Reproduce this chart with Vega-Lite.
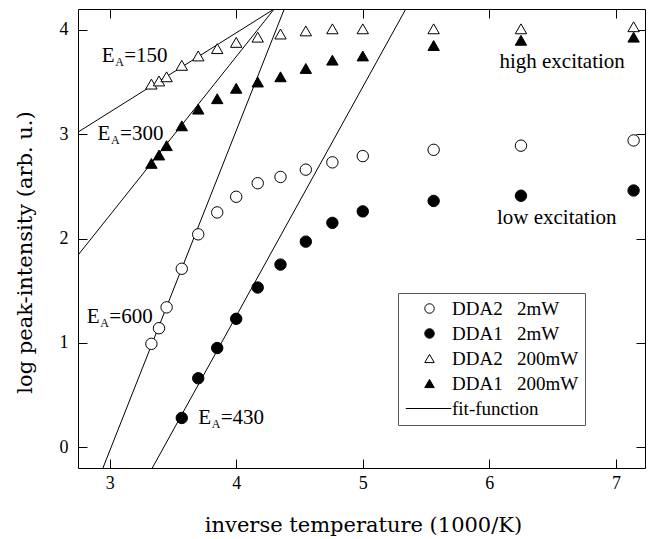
{
  "$schema": "https://vega.github.io/schema/vega-lite/v6.json",
  "autosize": {"type": "none"},
  "width": 567,
  "height": 459,
  "padding": {"left": 78, "top": 9, "right": 10, "bottom": 71},
  "background": "white",
  "config": {
    "view": {"stroke": "black", "strokeWidth": 1},
    "font": "Liberation Serif",
    "axis": {"domain": false, "ticks": false, "grid": true, "gridColor": "black", "gridOpacity": 1, "gridWidth": 1, "labelColor": "black", "titleColor": "black", "labelFont": "Liberation Serif", "titleFont": "DejaVu Serif", "labelFontSize": 18, "titleFontSize": 21, "titleFontWeight": "normal"}
  },
  "datasets": {
    "points": [
      {"x": 3.33, "y": 0.99, "series": "DDA2\u2002 2mW"},
      {"x": 3.39, "y": 1.14, "series": "DDA2\u2002 2mW"},
      {"x": 3.45, "y": 1.34, "series": "DDA2\u2002 2mW"},
      {"x": 3.57, "y": 1.71, "series": "DDA2\u2002 2mW"},
      {"x": 3.70, "y": 2.04, "series": "DDA2\u2002 2mW"},
      {"x": 3.85, "y": 2.25, "series": "DDA2\u2002 2mW"},
      {"x": 4.00, "y": 2.40, "series": "DDA2\u2002 2mW"},
      {"x": 4.17, "y": 2.53, "series": "DDA2\u2002 2mW"},
      {"x": 4.35, "y": 2.59, "series": "DDA2\u2002 2mW"},
      {"x": 4.55, "y": 2.66, "series": "DDA2\u2002 2mW"},
      {"x": 4.76, "y": 2.73, "series": "DDA2\u2002 2mW"},
      {"x": 5.00, "y": 2.79, "series": "DDA2\u2002 2mW"},
      {"x": 5.56, "y": 2.85, "series": "DDA2\u2002 2mW"},
      {"x": 6.25, "y": 2.89, "series": "DDA2\u2002 2mW"},
      {"x": 7.14, "y": 2.94, "series": "DDA2\u2002 2mW"},
      {"x": 3.57, "y": 0.28, "series": "DDA1\u2002 2mW"},
      {"x": 3.70, "y": 0.66, "series": "DDA1\u2002 2mW"},
      {"x": 3.85, "y": 0.95, "series": "DDA1\u2002 2mW"},
      {"x": 4.00, "y": 1.23, "series": "DDA1\u2002 2mW"},
      {"x": 4.17, "y": 1.53, "series": "DDA1\u2002 2mW"},
      {"x": 4.35, "y": 1.75, "series": "DDA1\u2002 2mW"},
      {"x": 4.55, "y": 1.97, "series": "DDA1\u2002 2mW"},
      {"x": 4.76, "y": 2.15, "series": "DDA1\u2002 2mW"},
      {"x": 5.00, "y": 2.26, "series": "DDA1\u2002 2mW"},
      {"x": 5.56, "y": 2.36, "series": "DDA1\u2002 2mW"},
      {"x": 6.25, "y": 2.41, "series": "DDA1\u2002 2mW"},
      {"x": 7.14, "y": 2.46, "series": "DDA1\u2002 2mW"},
      {"x": 3.33, "y": 3.48, "series": "DDA2\u2002 200mW"},
      {"x": 3.39, "y": 3.51, "series": "DDA2\u2002 200mW"},
      {"x": 3.45, "y": 3.55, "series": "DDA2\u2002 200mW"},
      {"x": 3.57, "y": 3.66, "series": "DDA2\u2002 200mW"},
      {"x": 3.70, "y": 3.75, "series": "DDA2\u2002 200mW"},
      {"x": 3.85, "y": 3.82, "series": "DDA2\u2002 200mW"},
      {"x": 4.00, "y": 3.88, "series": "DDA2\u2002 200mW"},
      {"x": 4.17, "y": 3.93, "series": "DDA2\u2002 200mW"},
      {"x": 4.35, "y": 3.96, "series": "DDA2\u2002 200mW"},
      {"x": 4.55, "y": 3.99, "series": "DDA2\u2002 200mW"},
      {"x": 4.76, "y": 4.01, "series": "DDA2\u2002 200mW"},
      {"x": 5.00, "y": 4.01, "series": "DDA2\u2002 200mW"},
      {"x": 5.56, "y": 4.01, "series": "DDA2\u2002 200mW"},
      {"x": 6.25, "y": 4.01, "series": "DDA2\u2002 200mW"},
      {"x": 7.14, "y": 4.03, "series": "DDA2\u2002 200mW"},
      {"x": 3.33, "y": 2.72, "series": "DDA1\u2002 200mW"},
      {"x": 3.39, "y": 2.80, "series": "DDA1\u2002 200mW"},
      {"x": 3.45, "y": 2.89, "series": "DDA1\u2002 200mW"},
      {"x": 3.57, "y": 3.08, "series": "DDA1\u2002 200mW"},
      {"x": 3.70, "y": 3.24, "series": "DDA1\u2002 200mW"},
      {"x": 3.85, "y": 3.34, "series": "DDA1\u2002 200mW"},
      {"x": 4.00, "y": 3.44, "series": "DDA1\u2002 200mW"},
      {"x": 4.17, "y": 3.50, "series": "DDA1\u2002 200mW"},
      {"x": 4.35, "y": 3.55, "series": "DDA1\u2002 200mW"},
      {"x": 4.55, "y": 3.63, "series": "DDA1\u2002 200mW"},
      {"x": 4.76, "y": 3.71, "series": "DDA1\u2002 200mW"},
      {"x": 5.00, "y": 3.75, "series": "DDA1\u2002 200mW"},
      {"x": 5.56, "y": 3.85, "series": "DDA1\u2002 200mW"},
      {"x": 6.25, "y": 3.90, "series": "DDA1\u2002 200mW"},
      {"x": 7.14, "y": 3.93, "series": "DDA1\u2002 200mW"}
    ],
    "fits": [
      {"fit": "EA150", "x": 2.75, "y": 3.02},
      {"fit": "EA150", "x": 4.30, "y": 4.20},
      {"fit": "EA300", "x": 2.75, "y": 1.84},
      {"fit": "EA300", "x": 4.30, "y": 4.20},
      {"fit": "EA600", "x": 2.947, "y": -0.20},
      {"fit": "EA600", "x": 4.38, "y": 4.20},
      {"fit": "EA430", "x": 3.337, "y": -0.20},
      {"fit": "EA430", "x": 5.34, "y": 4.20}
    ],
    "ealabels": [
      {"x": 2.937, "y": 3.75, "e": "E", "sub": "A", "rest": "=150"},
      {"x": 2.905, "y": 3.00, "e": "E", "sub": "A", "rest": "=300"},
      {"x": 2.82, "y": 1.25, "e": "E", "sub": "A", "rest": "=600"},
      {"x": 3.70, "y": 0.28, "e": "E", "sub": "A", "rest": "=430"}
    ],
    "notes": [
      {"x": 6.08, "y": 3.69, "text": "high excitation"},
      {"x": 6.06, "y": 2.20, "text": "low excitation"}
    ]
  },
  "resolve": {"axis": {"x": "independent", "y": "independent"}},
  "layer": [
    {
      "data": {"name": "fits"},
      "mark": {"type": "line", "color": "black", "strokeWidth": 1, "clip": true},
      "encoding": {
        "x": {"field": "x", "type": "quantitative", "scale": {"domain": [2.75, 7.23], "nice": false, "zero": false},
              "axis": {"orient": "bottom", "values": [3, 4, 5, 6, 7], "gridDash": [9, 441, 9], "labelPadding": 6, "title": "inverse temperature (1000/K)", "titleX": 285, "titleY": 57, "titleAlign": "center", "titleBaseline": "middle", "titleAnchor": null}},
        "y": {"field": "y", "type": "quantitative", "scale": {"domain": [-0.2, 4.2], "nice": false, "zero": false},
              "axis": {"orient": "left", "values": [0, 1, 2, 3, 4], "gridDash": [9, 549, 9], "labelPadding": 10, "title": "log peak-intensity (arb. u.)", "titleX": -53, "titleY": 243, "titleAngle": 270, "titleAlign": "center", "titleBaseline": "middle", "titleAnchor": null}},
        "detail": {"field": "fit"}
      }
    },
    {
      "data": {"name": "points"},
      "mark": {"type": "point", "filled": true, "strokeWidth": 1, "opacity": 1},
      "encoding": {
        "x": {"field": "x", "type": "quantitative", "axis": {"orient": "bottom", "values": [3.5, 4.5, 5.5, 6.5], "gridDash": [5, 449, 5], "labels": false, "title": null}},
        "y": {"field": "y", "type": "quantitative", "axis": {"orient": "left", "values": [0.5, 1.5, 2.5, 3.5], "gridDash": [5, 557, 5], "labels": false, "title": null}},
        "shape": {"field": "series", "type": "nominal",
          "scale": {"domain": ["DDA2\u2002 2mW", "DDA1\u2002 2mW", "DDA2\u2002 200mW", "DDA1\u2002 200mW", "fit-function"],
                    "range": ["circle", "circle", "triangle-up", "triangle-up", "M-5,0H4.6"]},
          "legend": {"title": null, "orient": "none", "legendX": 320, "legendY": 284, "strokeColor": "#555", "fillColor": "white", "padding": 6, "symbolOffset": 16, "labelOffset": 13, "rowPadding": 5, "symbolSize": 90, "symbolStrokeWidth": 1, "labelFont": "Liberation Serif", "labelFontSize": 19, "labelColor": "black"}},
        "fill": {"field": "series", "type": "nominal",
          "scale": {"domain": ["DDA2\u2002 2mW", "DDA1\u2002 2mW", "DDA2\u2002 200mW", "DDA1\u2002 200mW", "fit-function"],
                    "range": ["white", "black", "white", "black", "black"]},
          "legend": {"title": null, "orient": "none", "legendX": 320, "legendY": 284, "strokeColor": "#555", "fillColor": "white", "padding": 6, "symbolOffset": 16, "labelOffset": 13, "rowPadding": 5, "symbolSize": 90, "symbolStrokeWidth": 1, "labelFont": "Liberation Serif", "labelFontSize": 19, "labelColor": "black"}},
        "stroke": {"field": "series", "type": "nominal",
          "scale": {"domain": ["DDA2\u2002 2mW", "DDA1\u2002 2mW", "DDA2\u2002 200mW", "DDA1\u2002 200mW", "fit-function"],
                    "range": ["black", "black", "black", "black", "black"]},
          "legend": {"title": null, "orient": "none", "legendX": 320, "legendY": 284, "strokeColor": "#555", "fillColor": "white", "padding": 6, "symbolOffset": 16, "labelOffset": 13, "rowPadding": 5, "symbolSize": 90, "symbolStrokeWidth": 1, "labelFont": "Liberation Serif", "labelFontSize": 19, "labelColor": "black"}},
        "size": {"value": 130}
      }
    },
    {
      "data": {"name": "ealabels"},
      "mark": {"type": "text", "align": "left", "baseline": "middle", "fontSize": 21, "font": "Liberation Serif", "color": "black"},
      "encoding": {
        "x": {"field": "x", "type": "quantitative", "axis": null},
        "y": {"field": "y", "type": "quantitative", "axis": null},
        "text": {"field": "e"}
      }
    },
    {
      "data": {"name": "ealabels"},
      "mark": {"type": "text", "align": "left", "baseline": "middle", "fontSize": 12, "font": "Liberation Serif", "color": "black", "dx": 13.5, "dy": 6},
      "encoding": {
        "x": {"field": "x", "type": "quantitative", "axis": null},
        "y": {"field": "y", "type": "quantitative", "axis": null},
        "text": {"field": "sub"}
      }
    },
    {
      "data": {"name": "ealabels"},
      "mark": {"type": "text", "align": "left", "baseline": "middle", "fontSize": 21, "font": "Liberation Serif", "color": "black", "dx": 22.5},
      "encoding": {
        "x": {"field": "x", "type": "quantitative", "axis": null},
        "y": {"field": "y", "type": "quantitative", "axis": null},
        "text": {"field": "rest"}
      }
    },
    {
      "data": {"name": "notes"},
      "mark": {"type": "text", "align": "left", "baseline": "middle", "fontSize": 21, "font": "Liberation Serif", "color": "black"},
      "encoding": {
        "x": {"field": "x", "type": "quantitative", "axis": null},
        "y": {"field": "y", "type": "quantitative", "axis": null},
        "text": {"field": "text"}
      }
    }
  ]
}
